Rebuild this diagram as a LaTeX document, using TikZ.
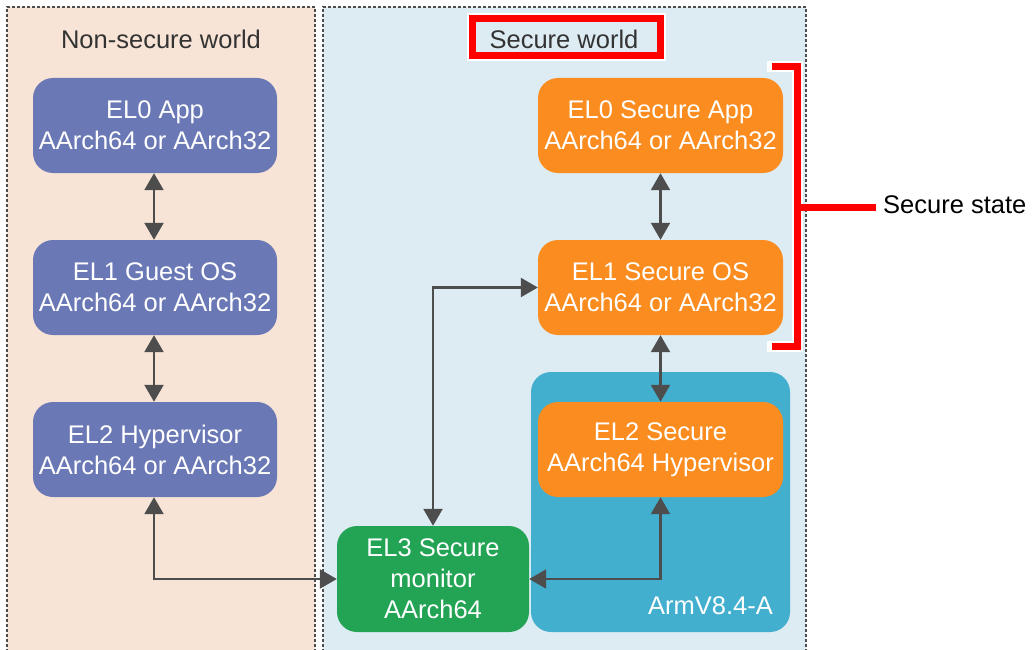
\documentclass[tikz,border=0pt]{standalone}
\usepackage{fontspec}
\setmainfont{Liberation Sans}
\usetikzlibrary{arrows.meta}
\definecolor{peach}{HTML}{F7E4D6}
\definecolor{skybg}{HTML}{DDEBF3}
\definecolor{elblue}{HTML}{6A78B5}
\definecolor{elorange}{HTML}{FB8C1F}
\definecolor{elgreen}{HTML}{23A455}
\definecolor{armblue}{HTML}{43AFCF}
\definecolor{arrowgray}{HTML}{4D4D4D}
\definecolor{txtgray}{HTML}{333333}
\definecolor{borderred}{HTML}{FF0000}
\tikzset{
  world/.style={draw=arrowgray, line width=1.3pt, dash pattern=on 3pt off 2pt},
  elbox/.style={rounded corners=20pt, text=white, align=center, minimum width=245pt, minimum height=95pt, inner sep=0pt, font=\fontsize{25.5}{31}\selectfont},
  conn/.style={draw=arrowgray, line width=2.3pt, {Triangle[length=17pt,width=19pt]}-{Triangle[length=17pt,width=19pt]}},
  lbl/.style={font=\fontsize{25.5}{31}\selectfont, inner sep=0pt},
  redline/.style={draw=borderred, line width=7pt},
  whiteline/.style={draw=white, line width=11pt}
}
\begin{document}
\begin{tikzpicture}[x=1pt,y=-1pt]
\useasboundingbox (0,0) rectangle (1036,650);
% worlds
\fill[peach] (7,7) rectangle (315,652);
\draw[world] (7,652) -- (7,7) -- (315,7) -- (315,652);
\fill[skybg] (323,7) rectangle (806,652);
\draw[world] (323,652) -- (323,7) -- (806,7) -- (806,652);
\node[lbl, text=txtgray] (nsw) at (161,39) {Non-secure world};
% secure world label with red frame
\draw[whiteline] (472,19) rectangle (660,56);
\draw[redline] (472,19) rectangle (660,56);
\fill[skybg] (475.5,22.5) rectangle (656.5,52.5);
\node[lbl, text=txtgray] (sw) at (564,39) {Secure world};
% ArmV8.4-A container
\fill[armblue, rounded corners=20pt] (531,372) rectangle (790,632);
\node[lbl, text=white, anchor=east] (arm) at (773,606) {ArmV8.4-A};
% non-secure nodes
\node[elbox, fill=elblue, minimum width=244pt] (nel0) at (155,125.5) {EL0 App\\AArch64 or AArch32};
\node[elbox, fill=elblue, minimum width=244pt] (nel1) at (155,287.5) {EL1 Guest OS\\AArch64 or AArch32};
\node[elbox, fill=elblue, minimum width=244pt] (nel2) at (155,449.5) {EL2 Hypervisor\\AArch64 or AArch32};
% secure nodes
\node[elbox, fill=elorange] (sel0) at (660.5,125.5) {EL0 Secure App\\AArch64 or AArch32};
\node[elbox, fill=elorange] (sel1) at (660.5,287.5) {EL1 Secure OS\\AArch64 or AArch32};
\node[elbox, fill=elorange] (sel2) at (660.5,449.5) {EL2 Secure\\AArch64 Hypervisor};
\node[elbox, fill=elgreen, minimum width=192pt, minimum height=106pt] (el3) at (433,579) {EL3 Secure\\monitor\\AArch64};
% connectors
\draw[conn] ([xshift=-1pt]nel0.south) -- ([xshift=-1pt]nel1.north);
\draw[conn] ([xshift=-1pt]nel1.south) -- ([xshift=-1pt]nel2.north);
\draw[conn] ([xshift=-1pt]nel2.south) |- (el3.west);
\draw[conn] (sel0.south) -- (sel1.north);
\draw[conn] (sel1.south) -- (sel2.north);
\draw[conn] (sel2.south) |- (el3.east);
\draw[conn] (el3.north) |- (sel1.west);
% secure state bracket
\coordinate (bt) at (772,67);
\coordinate (bb) at (772,346);
\coordinate (bm) at (797,207);
\coordinate (be) at (876,207);
\draw[whiteline, line cap=rect] (bt) -- (797,67) -- (797,346) -- (bb);
\draw[redline] (bt) -- (797,67) -- (797,346) -- (bb);
\draw[redline] (bm) -- (be);
\node[lbl, text=black, anchor=west] (ss) at (883,205) {Secure state};
\end{tikzpicture}
\end{document}
